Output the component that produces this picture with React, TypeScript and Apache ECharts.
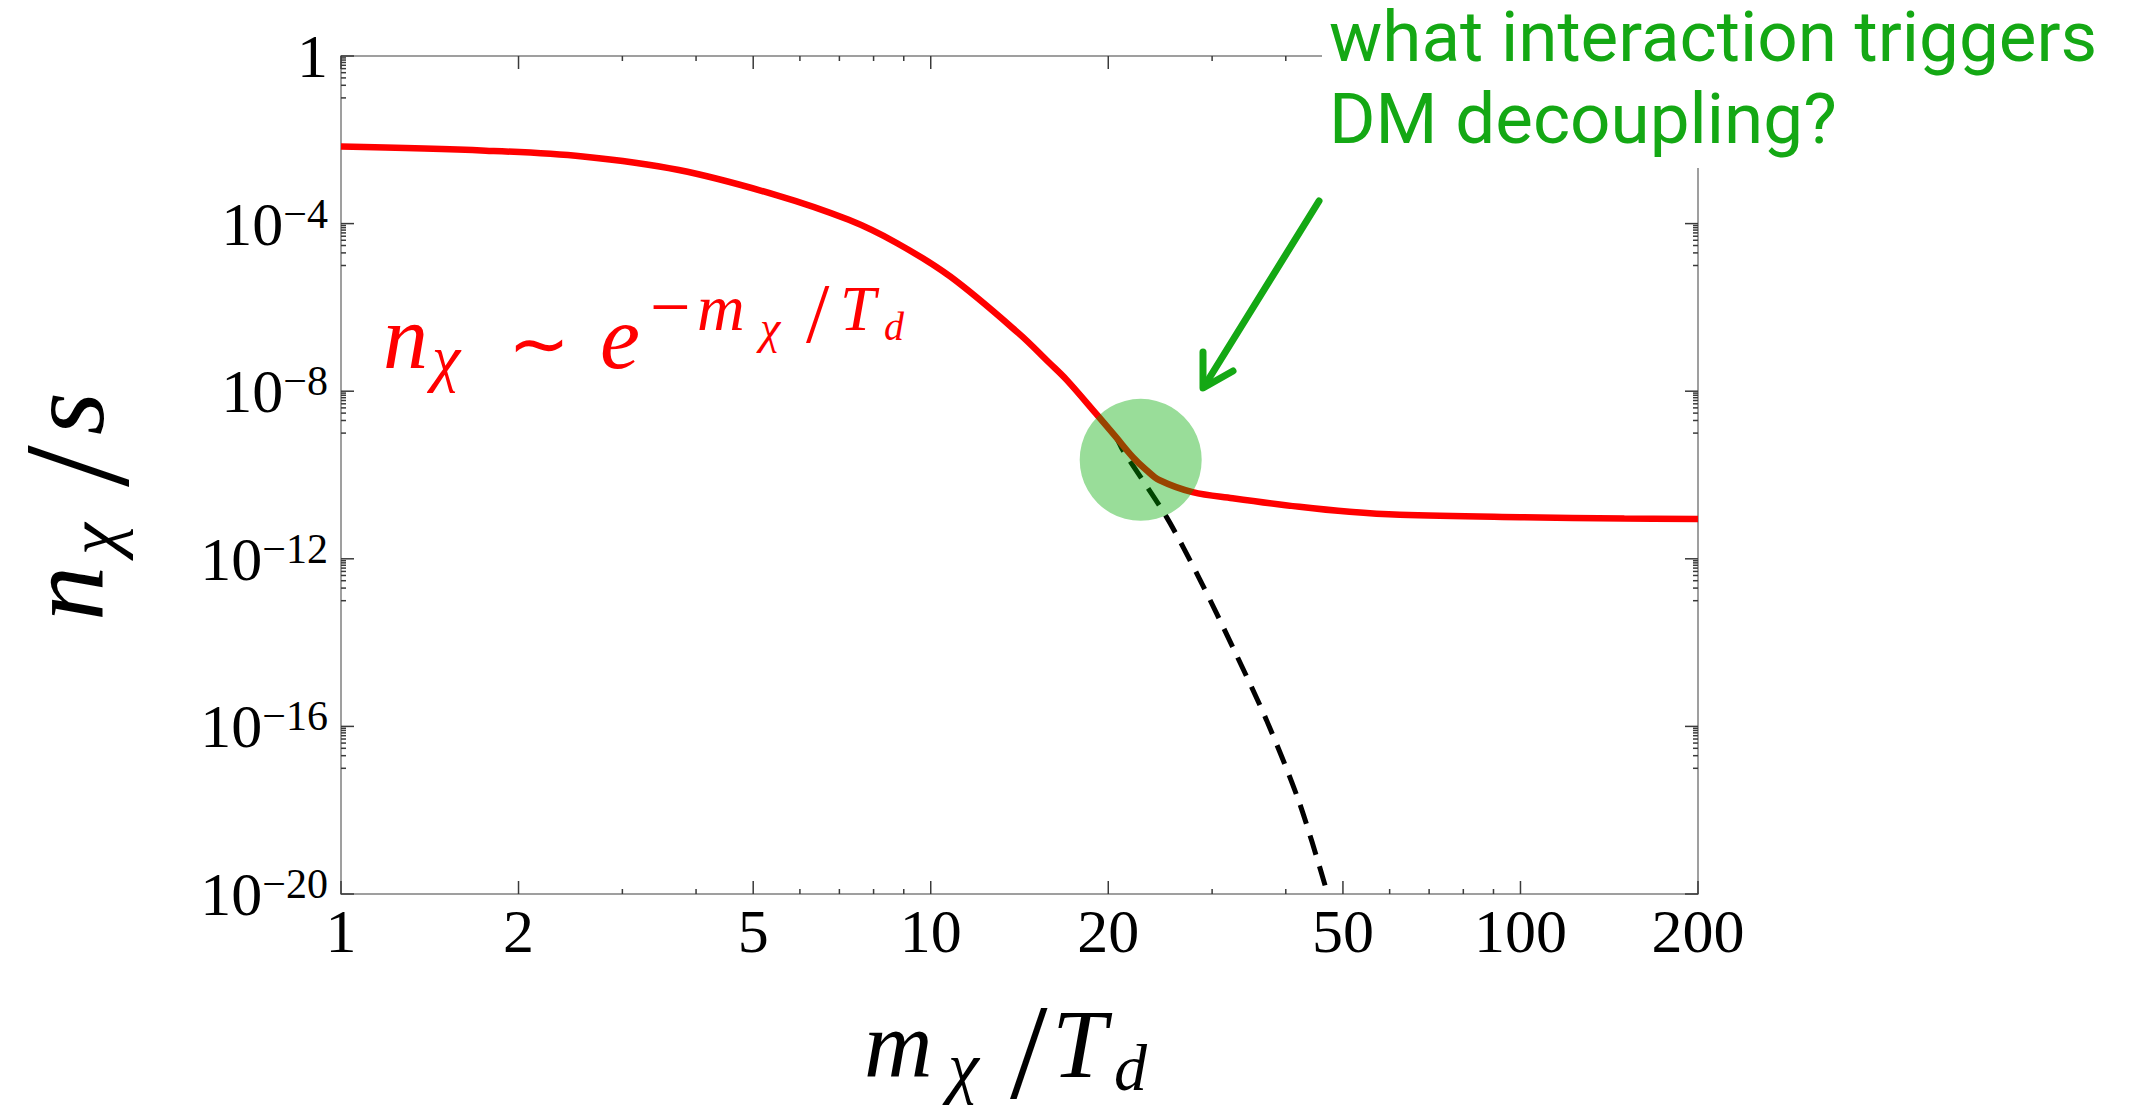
import React, { useEffect, useRef } from 'react';
import * as echarts from 'echarts';

// ---- data ----
const redX = [1, 1.76, 2.57, 3.74, 5.47, 7.26, 8.77, 10.8, 14.1, 15.9, 17.0, 19.05, 20.6, 22.0, 23.2, 24.4, 27.8, 32.5, 42.2, 51.3, 62.4, 100, 150, 200];
const redY = [6.9e-3, 5.5e-3, 4.0e-3, 1.9e-3, 4.8e-4, 1.23e-4, 3.4e-5, 5.4e-6, 2.4e-7, 4.7e-8, 1.86e-8, 2.95e-9, 8.1e-10, 2.7e-10, 1.32e-10, 7.6e-11, 3.9e-11, 2.8e-11, 1.74e-11, 1.32e-11, 1.12e-11, 9.8e-12, 9.1e-12, 8.9e-12];

const eqX = [15.9, 17.0, 19.05, 20.6, 21.15, 25.1, 28.6, 32.5, 37.1, 42.2, 47.1];
const eqY = [4.7e-8, 1.86e-8, 2.95e-9, 8.1e-10, 4.0e-10, 1.0e-11, 3.2e-13, 7.9e-15, 1.41e-16, 1.48e-18, 1.0e-20];

const decouplingX = [22.7];
const decouplingY = [2.3e-10];

const xMajorTicks = [1, 2, 5, 10, 20, 50, 100, 200];
const xMinorTicks = [3, 4, 6, 7, 8, 9, 30, 40, 60, 70, 80, 90];
const yMajorTicks = [1, 1e-4, 1e-8, 1e-12, 1e-16, 1e-20];
const yMinorMantissas = [1, 2, 3, 4, 5, 6, 7, 8, 9];
const yMinorDecades = [1e-1, 1e-5, 1e-9, 1e-13, 1e-17];

const annotationLines = ['what interaction triggers', 'DM decoupling?'];

const GREEN = '#14A814';
const SERIF = '"Liberation Serif", "Times New Roman", serif';
const TICK = '#3a3a3a';

function piece(text: string, x: number, baseline: number, size: number, italic = true, color = '#000'): any {
  return {
    type: 'text',
    x,
    y: baseline - 0.3375 * size,
    style: {
      text,
      fill: color,
      fontStyle: italic ? 'italic' : 'normal',
      fontSize: size,
      fontFamily: SERIF,
      align: 'left',
      textAlign: 'left',
      verticalAlign: 'middle',
      textVerticalAlign: 'middle',
    },
  };
}

function mathLabels() {
  return [
    // red formula label
    piece('n', 383, 368, 90, true, '#ff0000'),
    piece('\u03c7', 432, 379, 64, true, '#ff0000'),
    piece('\u223c', 508, 369, 74, false, '#ff0000'),
    piece('e', 600, 368, 90, true, '#ff0000'),
    piece('\u2212', 650, 331, 72, false, '#ff0000'),
    piece('m', 697, 330, 66, true, '#ff0000'),
    piece('\u03c7', 760, 343, 46, true, '#ff0000'),
    piece('/', 806, 342, 84, false, '#ff0000'),
    piece('T', 840, 330, 64, true, '#ff0000'),
    piece('d', 884, 340, 40, true, '#ff0000'),
    // x title
    piece('m', 864, 1077, 95, true),
    piece('\u03c7', 948, 1090, 70, true),
    piece('/', 1010, 1098, 135, false),
    piece('T', 1052, 1077, 98, true),
    piece('d', 1114, 1090, 66, true),
    // y title (rotated)
    {
      type: 'group',
      x: 103,
      y: 617,
      rotation: Math.PI / 2,
      children: [
        piece('n', -4, 0, 110, true),
        piece('\u03c7', 62, 15, 72, true),
        piece('/', 130, 25, 150, false),
        piece('s', 182, 0, 110, true),
      ],
    },
  ];
}

export default function App() {
  const ref = useRef<HTMLDivElement>(null);
  useEffect(() => {
    if (!ref.current) return;
    const chart = echarts.init(ref.current, undefined, { renderer: 'svg' });

    const yMinor: number[] = [];
    yMinorDecades.forEach((d) => yMinorMantissas.forEach((m) => yMinor.push(m * d)));

    const xTickData = [
      ...xMajorTicks.map((v) => [v, 1, 0]),
      ...xMinorTicks.map((v) => [v, 1, 1]),
    ];
    const yTickData = [
      ...yMajorTicks.map((v) => [1, v, 0]),
      ...yMinor.map((v) => [1, v, 1]),
    ];

    const option: any = {
      animation: false,
      backgroundColor: '#fff',
      grid: {
        left: 341,
        top: 56,
        right: 2136 - 1698,
        bottom: 1107 - 894,
        show: true,
        borderColor: '#808080',
        borderWidth: 1.5,
        backgroundColor: 'transparent',
      },
      xAxis: {
        type: 'log',
        logBase: 10,
        min: 1,
        max: 200,
        axisLine: { show: false },
        axisTick: { show: false },
        axisLabel: { show: false },
        splitLine: { show: false },
      },
      yAxis: {
        type: 'log',
        logBase: 10,
        min: 1e-20,
        max: 1,
        interval: 4,
        axisLine: { show: false },
        axisTick: { show: false },
        splitLine: { show: false },
        axisLabel: {
          margin: 13,
          formatter: (v: number) => {
            const e = Math.round(Math.log10(v));
            return e === 0 ? '{a|1}' : `{a|10}{b|\u2212${-e}}`;
          },
          rich: {
            a: { fontSize: 62, fontFamily: SERIF, color: '#000', lineHeight: 62 },
            b: { fontSize: 42, fontFamily: SERIF, color: '#000', lineHeight: 20, verticalAlign: 'top' },
          },
        },
      },
      series: [
        {
          type: 'custom',
          clip: false,
          silent: true,
          z: 3,
          data: xTickData,
          renderItem: (params: any, api: any) => {
            const v = api.value(0);
            const kind = api.value(2);
            const cs = params.coordSys;
            const px = api.coord([v, 1])[0];
            const len = kind === 0 ? 13 : 5;
            const bottom = cs.y + cs.height;
            const top = cs.y;
            const ls = { stroke: TICK, lineWidth: 1.5 };
            const children: any[] = [
              { type: 'line', shape: { x1: px, y1: bottom, x2: px, y2: bottom - len }, style: ls },
              { type: 'line', shape: { x1: px, y1: top, x2: px, y2: top + len }, style: ls },
            ];
            if (kind === 0) {
              children.push({
                type: 'text',
                x: px,
                y: bottom + 6,
                style: {
                  text: String(v),
                  fill: '#000',
                  fontSize: 62,
                  fontFamily: SERIF,
                  align: 'center',
                  textAlign: 'center',
                  verticalAlign: 'top',
                  textVerticalAlign: 'top',
                },
              });
            }
            return { type: 'group', children };
          },
        },
        {
          type: 'custom',
          clip: false,
          silent: true,
          z: 3,
          data: yTickData,
          renderItem: (params: any, api: any) => {
            const v = api.value(1);
            const kind = api.value(2);
            const cs = params.coordSys;
            const py = api.coord([1, v])[1];
            const len = kind === 0 ? 13 : 5;
            const left = cs.x;
            const right = cs.x + cs.width;
            const ls = { stroke: TICK, lineWidth: 1.5 };
            return {
              type: 'group',
              children: [
                { type: 'line', shape: { x1: left, y1: py, x2: left + len, y2: py }, style: ls },
                { type: 'line', shape: { x1: right, y1: py, x2: right - len, y2: py }, style: ls },
              ],
            };
          },
        },
        {
          name: 'equilibrium',
          type: 'line',
          data: eqX.map((x, i) => [x, eqY[i]]),
          showSymbol: false,
          smooth: 0.3,
          silent: true,
          z: 4,
          lineStyle: { color: '#000', width: 5, type: [20, 12] },
        },
        {
          name: 'abundance',
          type: 'line',
          data: redX.map((x, i) => [x, redY[i]]),
          showSymbol: false,
          smooth: 0.35,
          silent: true,
          z: 5,
          lineStyle: { color: '#ff0000', width: 6.5 },
        },
        {
          name: 'decoupling',
          type: 'scatter',
          data: decouplingX.map((x, i) => [x, decouplingY[i]]),
          symbol: 'circle',
          symbolSize: 122,
          silent: true,
          z: 6,
          itemStyle: { color: 'rgba(0,170,0,0.5)' },
        },
      ],
      graphic: [
        { type: 'rect', z: 50, shape: { x: 1322, y: 0, width: 814, height: 168 }, style: { fill: '#fff' } },
        {
          type: 'text', z: 60, x: 1329, y: 61 - 0.34 * 71,
          style: { text: annotationLines[0], fill: GREEN, fontSize: 71, fontFamily: 'Roboto', align: 'left', textAlign: 'left', verticalAlign: 'middle', textVerticalAlign: 'middle' },
        },
        {
          type: 'text', z: 60, x: 1329, y: 143 - 0.34 * 71,
          style: { text: annotationLines[1], fill: GREEN, fontSize: 71, fontFamily: 'Roboto', align: 'left', textAlign: 'left', verticalAlign: 'middle', textVerticalAlign: 'middle' },
        },
        {
          type: 'line', z: 60,
          shape: { x1: 1319, y1: 201, x2: 1205, y2: 385 },
          style: { stroke: GREEN, lineWidth: 7, lineCap: 'round' },
        },
        {
          type: 'polyline', z: 60,
          shape: { points: [[1203, 352], [1203, 388], [1233, 371]] },
          style: { stroke: GREEN, lineWidth: 7, lineCap: 'round', lineJoin: 'round', fill: 'none' },
        },
        { type: 'group', z: 60, children: mathLabels() },
      ],
    };
    chart.setOption(option);
    return () => chart.dispose();
  }, []);
  return (
    <div
      ref={ref}
      style={{ position: 'absolute', left: 0, top: 0, width: 2136, height: 1107, background: '#fff' }}
    />
  );
}
